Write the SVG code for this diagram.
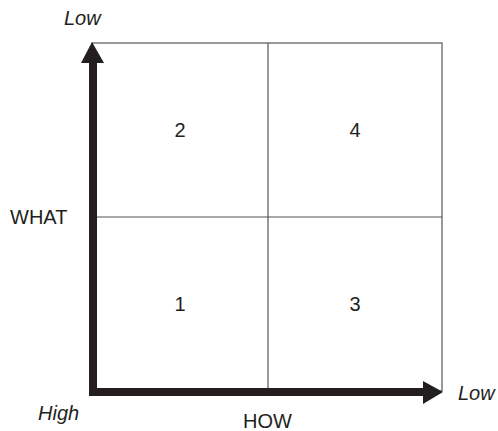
<svg xmlns="http://www.w3.org/2000/svg" width="498" height="431" viewBox="0 0 498 431">
<style>
.grid{fill:none;stroke:#555;stroke-width:1.2}
.axis{stroke:#231f20;stroke-width:8;fill:none}
.head{fill:#231f20}
text{font-family:"Liberation Sans",Arial,sans-serif;font-size:20px;fill:#231f20}
.it{font-style:italic}
.num{text-anchor:middle}
</style>
<rect width="498" height="431" fill="#fff"/>
<g id="grid">
<rect class="grid" x="92" y="43" width="350" height="348"/>
<line class="grid" x1="268" y1="43" x2="268" y2="391"/>
<line class="grid" x1="92" y1="217" x2="442" y2="217"/>
</g>
<g id="connectors">
<path class="axis" d="M93,392 V60"/>
<path class="axis" d="M89,392 H425"/>
<polygon class="head" points="92,42 104,63 81,63"/>
<polygon class="head" points="443,392 423,381 423,404"/>
</g>
<g id="q2"><text class="num" x="180" y="137">2</text></g>
<g id="q4"><text class="num" x="355" y="137">4</text></g>
<g id="q1"><text class="num" x="180" y="311">1</text></g>
<g id="q3"><text class="num" x="355" y="311">3</text></g>
<g id="labels">
<text class="it" x="64" y="25">Low</text>
<text class="it" x="458" y="400">Low</text>
<text class="it" x="38" y="420">High</text>
<text x="243" y="428">HOW</text>
<text x="10" y="224">WHAT</text>
</g>
</svg>
